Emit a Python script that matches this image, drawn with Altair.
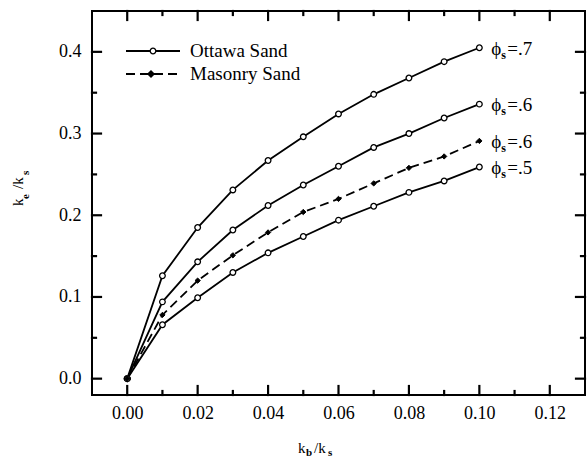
import altair as alt
import pandas as pd

# ---- data ----
kb_ks = [0.0, 0.01, 0.02, 0.03, 0.04, 0.05, 0.06, 0.07, 0.08, 0.09, 0.10]
ottawa_07 = [0.0, 0.126, 0.185, 0.231, 0.267, 0.296, 0.324, 0.348, 0.368, 0.388, 0.405]
ottawa_06 = [0.0, 0.094, 0.143, 0.182, 0.212, 0.237, 0.260, 0.283, 0.300, 0.319, 0.336]
masonry_06 = [0.0, 0.078, 0.120, 0.151, 0.179, 0.204, 0.220, 0.239, 0.258, 0.272, 0.291]
ottawa_05 = [0.0, 0.066, 0.099, 0.130, 0.154, 0.174, 0.194, 0.211, 0.228, 0.242, 0.259]

series_names = ["o07", "o06", "m06", "o05"]
series_sand = ["Ottawa", "Ottawa", "Masonry", "Ottawa"]
series_label = [".7", ".6", ".6", ".5"]
series_vals = [ottawa_07, ottawa_06, masonry_06, ottawa_05]

x_major = [0.00, 0.02, 0.04, 0.06, 0.08, 0.10, 0.12]
x_minor = [0.01, 0.03, 0.05, 0.07, 0.09, 0.11]
y_major = [0.0, 0.1, 0.2, 0.3, 0.4]
y_minor = [0.05, 0.15, 0.25, 0.35]

X_DOM = [-0.01, 0.13]
Y_DOM = [-0.02, 0.45]
W, H = 493, 384
FONT = "Liberation Serif"

rows = []
for name, sand, vals in zip(series_names, series_sand, series_vals):
    for xv, yv in zip(kb_ks, vals):
        rows.append({"series": name, "sand": sand, "x": xv, "y": yv})
df = pd.DataFrame(rows)

lab = pd.DataFrame({
    "series": series_names,
    "x": [kb_ks[-1]] * 4,
    "y": [v[-1] for v in series_vals],
    "lab": ["=" + s for s in series_label],
})

xs = alt.Scale(domain=X_DOM, nice=False, zero=False)
ys = alt.Scale(domain=Y_DOM, nice=False, zero=False)

X = alt.X("x:Q", scale=xs, axis=alt.Axis(values=x_major, format=".2f", ticks=False, domain=False,
                                          grid=False, labelFont=FONT, labelFontSize=18, labelColor="black",
                                          labelPadding=9, title=None))
Y = alt.Y("y:Q", scale=ys, axis=alt.Axis(values=y_major, format=".1f", ticks=False, domain=False,
                                          grid=False, labelFont=FONT, labelFontSize=18, labelColor="black",
                                          labelPadding=11, title=None))

base = alt.Chart(df).encode(x=X, y=Y, detail="series:N")

solid = base.transform_filter(alt.datum.sand == "Ottawa").mark_line(color="black", strokeWidth=1.8)
dashed = base.transform_filter(alt.datum.sand == "Masonry").mark_line(color="black", strokeWidth=1.8,
                                                                         strokeDash=[9, 5])
circ = base.transform_filter(alt.datum.sand == "Ottawa").mark_point(
    shape="circle", filled=True, fill="white", stroke="black", strokeWidth=1.3, size=32, opacity=1)
diam = base.transform_filter(alt.datum.sand == "Masonry").mark_point(
    shape="diamond", filled=True, fill="black", stroke="black", strokeWidth=1, size=28, opacity=1)

# series labels  phi_s = value
lb = alt.Chart(lab).encode(x=alt.X("x:Q", scale=xs), y=alt.Y("y:Q", scale=ys))
phi = lb.mark_text(text="ϕ", font=FONT, fontSize=19, align="left", baseline="middle", dx=12, dy=1,
                   color="black")
sub = lb.mark_text(text="s", font=FONT, fontSize=12, fontWeight="bold", align="left", baseline="middle",
                   dx=22, dy=7, color="black")
val = lb.mark_text(font=FONT, fontSize=19, align="left", baseline="middle", dx=28, dy=1,
                   color="black").encode(text="lab:N")

# inward ticks on all four sides (segments in data units, built from the tick value lists)
px_y = (Y_DOM[1] - Y_DOM[0]) / H
px_x = (X_DOM[1] - X_DOM[0]) / W
trows = []
for vals, L in ((x_major, 9), (x_minor, 4)):
    for v in vals:
        trows.append({"x1": v, "x2": v, "y1": Y_DOM[0], "y2": Y_DOM[0] + L * px_y})
        trows.append({"x1": v, "x2": v, "y1": Y_DOM[1], "y2": Y_DOM[1] - L * px_y})
for vals, L in ((y_major, 9), (y_minor, 4)):
    for v in vals:
        trows.append({"x1": X_DOM[0], "x2": X_DOM[0] + L * px_x, "y1": v, "y2": v})
        trows.append({"x1": X_DOM[1], "x2": X_DOM[1] - L * px_x, "y1": v, "y2": v})
tdf = pd.DataFrame(trows)
ticks = alt.Chart(tdf).mark_rule(color="black", strokeWidth=2.2, strokeCap="square").encode(
    x=alt.X("x1:Q", scale=xs), x2="x2:Q", y=alt.Y("y1:Q", scale=ys), y2="y2:Q")

# legend
one = pd.DataFrame({"a": [1]})
leg = [
    alt.Chart(one).mark_rule(color="black", strokeWidth=1.8).encode(
        x=alt.value(34), x2=alt.value(88), y=alt.value(40)),
    alt.Chart(one).mark_point(shape="circle", filled=True, fill="white", stroke="black", strokeWidth=1.3,
                              size=32, opacity=1).encode(x=alt.value(61), y=alt.value(40)),
    alt.Chart(one).mark_text(text="Ottawa Sand", font=FONT, fontSize=19, align="left", baseline="middle",
                             color="black").encode(x=alt.value(98), y=alt.value(40)),
    alt.Chart(one).mark_rule(color="black", strokeWidth=1.8, strokeDash=[9, 5]).encode(
        x=alt.value(34), x2=alt.value(88), y=alt.value(63)),
    alt.Chart(one).mark_point(shape="diamond", filled=True, fill="black", stroke="black", size=28,
                              opacity=1).encode(x=alt.value(59), y=alt.value(63)),
    alt.Chart(one).mark_text(text="Masonry Sand", font=FONT, fontSize=19, align="left", baseline="middle",
                             color="black").encode(x=alt.value(98), y=alt.value(63)),
]


# axis titles with subscripts
def txt(t, x, y, size=15, angle=0, weight="normal"):
    kw = dict(text=t, font=FONT, fontSize=size, align="left", baseline="alphabetic", color="black",
              fontWeight=weight)
    if angle:
        kw["angle"] = angle
    return alt.Chart(one).mark_text(**kw).encode(x=alt.value(x), y=alt.value(y))


titles = [
    txt("k", 206, 442), txt("b", 214, 445, 11, weight="bold"), txt("/k", 222, 442),
    txt("s", 236, 445, 11, weight="bold"),
    txt("k", -69, 195, angle=270), txt("e", -63, 188, 11, angle=270, weight="bold"),
    txt("/k", -69, 178, angle=270), txt("s", -63, 164, 11, angle=270, weight="bold"),
]

chart = alt.layer(
    solid, dashed, circ, diam, ticks, phi, sub, val, *leg, *titles
).properties(
    width=W, height=H,
    padding={"left": 11, "top": 9, "right": 0, "bottom": 5},
).configure_view(stroke="black", strokeWidth=2)

chart.save("out.html", embed_options={"renderer": "svg", "actions": False})
